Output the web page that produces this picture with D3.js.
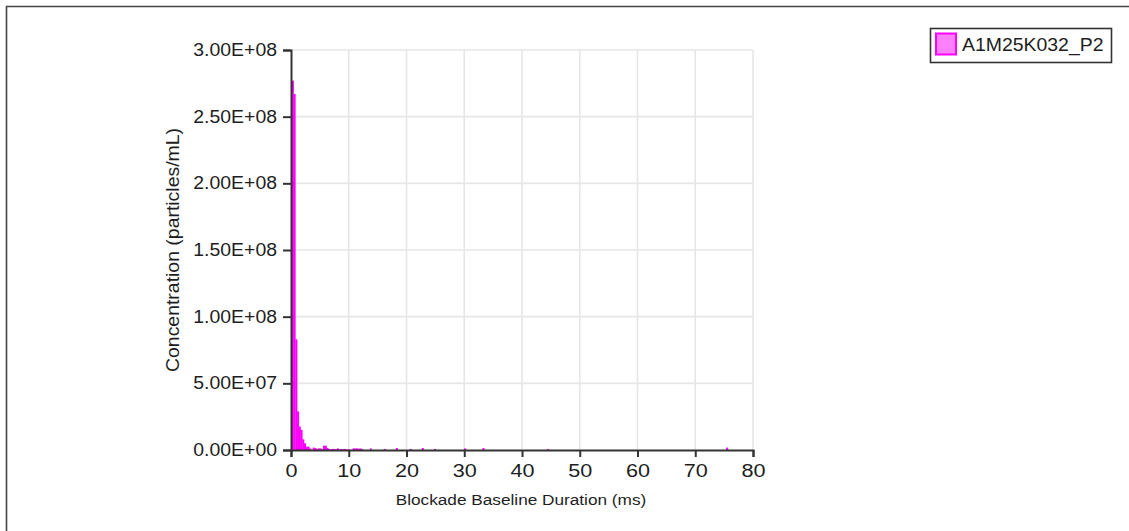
<!DOCTYPE html>
<html>
<head>
<meta charset="utf-8">
<script src="https://cdn.jsdelivr.net/npm/d3@7"></script>
<style>
  html, body { margin: 0; padding: 0; background: #fff; }
  svg { display: block; }
  text { font-family: "Liberation Sans", Arial, sans-serif; fill: #1e1e1e; }
</style>
</head>
<body>
<svg id="chart" width="1129" height="531"></svg>
<script>
// ---- data ----
const seriesName = "A1M25K032_P2";
const binWidthMs = 0.3;
const binStartMs = [0.15, 0.45, 0.75, 1.05, 1.35, 1.65, 1.95, 2.25, 2.55, 2.85, 3.15, 3.75, 4.05, 4.35, 4.65, 4.95, 5.25, 5.55, 5.85, 6.15, 6.45, 6.75, 7.05, 7.35, 7.65, 7.95, 8.25, 8.55, 8.85, 9.15, 9.45, 9.75, 10.05, 10.65, 10.95, 11.25, 11.55, 11.85, 12.15, 13.65, 16.05, 18.15, 20.55, 22.65, 24.75, 29.95, 33.15, 44.35, 75.35];
const concentration = [2.77e8, 2.67e8, 8.3e7, 2.9e7, 1.75e7, 1.5e7, 8e6, 5e6, 2.5e6, 2.5e6, 1.2e6, 1.8e6, 1.5e6, 0.8e6, 1.2e6, 1.2e6, 0.5e6, 3.2e6, 3.2e6, 1.5e6, 0.8e6, 0.4e6, 0.8e6, 0.8e6, 0.5e6, 1.2e6, 0.5e6, 0.8e6, 0.5e6, 0.8e6, 0.4e6, 0.4e6, 0.3e6, 1.2e6, 1.2e6, 1.2e6, 1.0e6, 1.2e6, 0.6e6, 1.2e6, 0.8e6, 1.5e6, 0.8e6, 1.5e6, 0.8e6, 1.2e6, 1.5e6, 0.8e6, 1.8e6];
const xTicks = [0, 10, 20, 30, 40, 50, 60, 70, 80];
const yTicks = [0, 5e7, 1e8, 1.5e8, 2e8, 2.5e8, 3e8];
const yTickLabels = ["0.00E+00", "5.00E+07", "1.00E+08", "1.50E+08", "2.00E+08", "2.50E+08", "3.00E+08"];
const xTitle = "Blockade Baseline Duration (ms)";
const yTitle = "Concentration (particles/mL)";

// ---- layout ----
const W = 1129, H = 531;
const plot = { left: 291, right: 753, top: 50, bottom: 450 };
const stretch = 1.11;

const svg = d3.select("#chart");
const x = d3.scaleLinear().domain([0, 80]).range([plot.left, plot.right]);
const y = d3.scaleLinear().domain([0, 3e8]).range([plot.bottom, plot.top]);

function widen(sel, factor) {
  sel.each(function () {
    const len = this.getComputedTextLength();
    d3.select(this).attr("textLength", len * factor).attr("lengthAdjust", "spacingAndGlyphs");
  });
}

// outer frame (only top and left visible)
svg.append("path")
  .attr("d", `M6.5,${H + 5} L6.5,6.5 L${W + 5},6.5`)
  .attr("fill", "none").attr("stroke", "#444").attr("stroke-width", 1.6);

// grid
const grid = svg.append("g");
grid.selectAll("line.v").data(xTicks.filter(d => d > 0)).join("line")
  .attr("x1", d => x(d)).attr("x2", d => x(d))
  .attr("y1", plot.top).attr("y2", plot.bottom)
  .attr("stroke", "#e6e6e6").attr("stroke-width", 1.6);
grid.selectAll("line.h").data(yTicks.filter(d => d > 0)).join("line")
  .attr("x1", plot.left).attr("x2", plot.right)
  .attr("y1", d => y(d)).attr("y2", d => y(d))
  .attr("stroke", "#e6e6e6").attr("stroke-width", 1.6);

// bars (contiguous histogram bins)
const bars = binStartMs.map((s, i) => ({ s, v: concentration[i] }));
svg.append("g").selectAll("rect").data(bars).join("rect")
  .attr("x", d => x(d.s))
  .attr("width", d => x(d.s + binWidthMs) - x(d.s) + 0.3)
  .attr("y", d => y(d.v))
  .attr("height", d => y(0) - y(d.v))
  .attr("fill", "#ff00ff");

// axes
const xAxis = d3.axisBottom(x).tickValues(xTicks).tickSize(7).tickPadding(7).tickFormat(d3.format("d"));
const gx = svg.append("g").attr("transform", `translate(0,${plot.bottom})`).call(xAxis);
gx.select(".domain").attr("stroke", "#333").attr("stroke-width", 2);
gx.selectAll(".tick line").attr("stroke", "#333").attr("stroke-width", 2);
gx.selectAll(".tick text").attr("font-size", 18).attr("fill", "#1e1e1e")
  .attr("font-family", "'Liberation Sans', Arial, sans-serif").call(widen, 1.2);

const yAxis = d3.axisLeft(y).tickValues(yTicks).tickSize(8).tickPadding(6)
  .tickFormat((d, i) => yTickLabels[i]);
const gy = svg.append("g").attr("transform", `translate(${plot.left},0)`).call(yAxis);
gy.select(".domain").attr("stroke", "#333").attr("stroke-width", 2);
gy.selectAll(".tick line").attr("stroke", "#333").attr("stroke-width", 2);
gy.selectAll(".tick text").attr("font-size", 17.5).attr("fill", "#1e1e1e")
  .attr("font-family", "'Liberation Sans', Arial, sans-serif").call(widen, stretch);

// titles
svg.append("text")
  .attr("x", (plot.left + plot.right) / 2 - 1).attr("y", 505)
  .attr("text-anchor", "middle").attr("font-size", 15.5)
  .text(xTitle).call(widen, stretch);

svg.append("text")
  .attr("transform", `translate(179,${(plot.top + plot.bottom) / 2}) rotate(-90)`)
  .attr("text-anchor", "middle").attr("font-size", 17.5)
  .text(yTitle).call(widen, stretch);

// legend
const lg = svg.append("g");
lg.append("rect").attr("x", 930.5).attr("y", 28.5).attr("width", 181).attr("height", 34)
  .attr("fill", "#fff").attr("stroke", "#333").attr("stroke-width", 1.6);
lg.append("rect").attr("x", 936).attr("y", 33.5).attr("width", 20).attr("height", 21)
  .attr("fill", "#ff80ff").attr("stroke", "#ff00ff").attr("stroke-width", 2);
lg.append("text").attr("x", 962).attr("y", 51).attr("font-size", 17.5)
  .text(seriesName).call(widen, stretch);
</script>
</body>
</html>
